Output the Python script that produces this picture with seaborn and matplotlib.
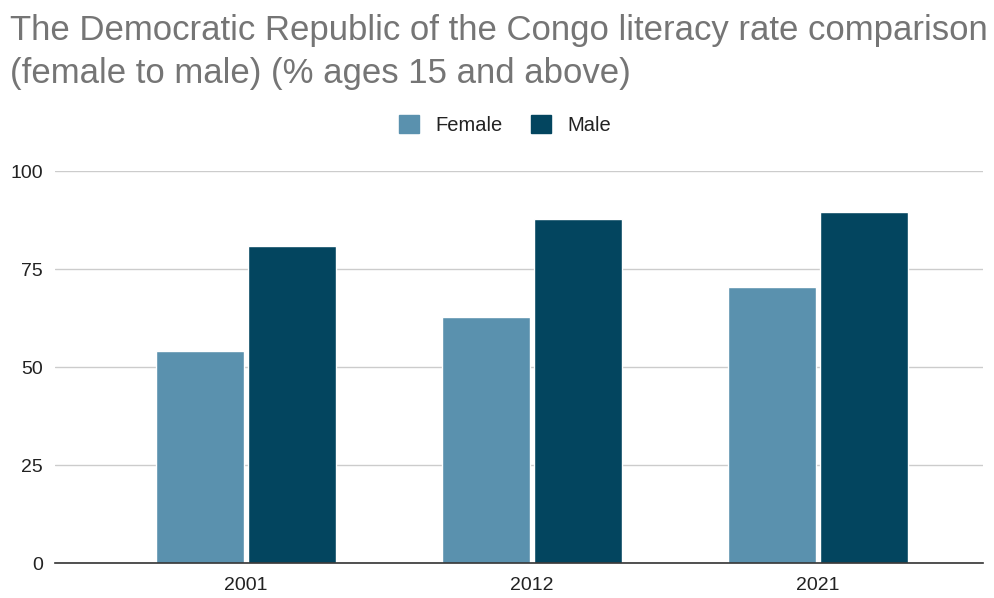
import matplotlib.pyplot as plt
import seaborn as sns
import pandas as pd
from matplotlib.patches import Patch

# Data
years = ["2001", "2012", "2021"]
female = [54.2, 62.8, 70.5]
male = [80.9, 87.8, 89.6]
series_names = ["Female", "Male"]
colors = ["#5a91ae", "#03455f"]

df = pd.DataFrame({
    "Year": years * 2,
    "Rate": female + male,
    "Sex": [series_names[0]] * len(years) + [series_names[1]] * len(years),
})

sns.set_theme(style="white")
plt.rcParams['font.family'] = ['Liberation Sans', 'DejaVu Sans']

fig = plt.figure(figsize=(9.94, 5.98), dpi=100)
ax = fig.add_axes([0.0553, 0.0585, 0.9337, 0.6555])

sns.barplot(data=df, x="Year", y="Rate", hue="Sex", palette=colors,
            width=0.64, gap=0.04, ax=ax, saturation=1, legend=False)

ax.set_ylim(0, 100)
ax.set_xlim(-0.668, 2.577)
ax.set_yticks([0, 25, 50, 75, 100])
ax.yaxis.grid(True, color="#cccccc", linewidth=1)
ax.set_axisbelow(True)
for s in ["top", "right", "left"]:
    ax.spines[s].set_visible(False)
ax.spines["bottom"].set_color("#333333")
ax.spines["bottom"].set_linewidth(1.2)
ax.set_xlabel("")
ax.set_ylabel("")
ax.tick_params(axis="both", length=0, labelsize=14, labelcolor="#222222")
ax.tick_params(axis="y", pad=8.5)
ax.tick_params(axis="x", pad=10)

fig.text(0.01, 0.977, "The Democratic Republic of the Congo literacy rate comparison\n(female to male) (% ages 15 and above)",
         ha="left", va="top", fontsize=25, color="#757575", linespacing=1.38)

handles = [Patch(facecolor=c, edgecolor=c, label=n) for c, n in zip(colors, series_names)]
fig.legend(handles=handles, loc="center", bbox_to_anchor=(0.508, 0.791), ncol=2,
           frameon=False, fontsize=14.5, handlelength=1.0, handleheight=1.0,
           columnspacing=1.4, handletextpad=0.8, labelcolor="#222222")

fig.savefig("out.png", dpi=100)
